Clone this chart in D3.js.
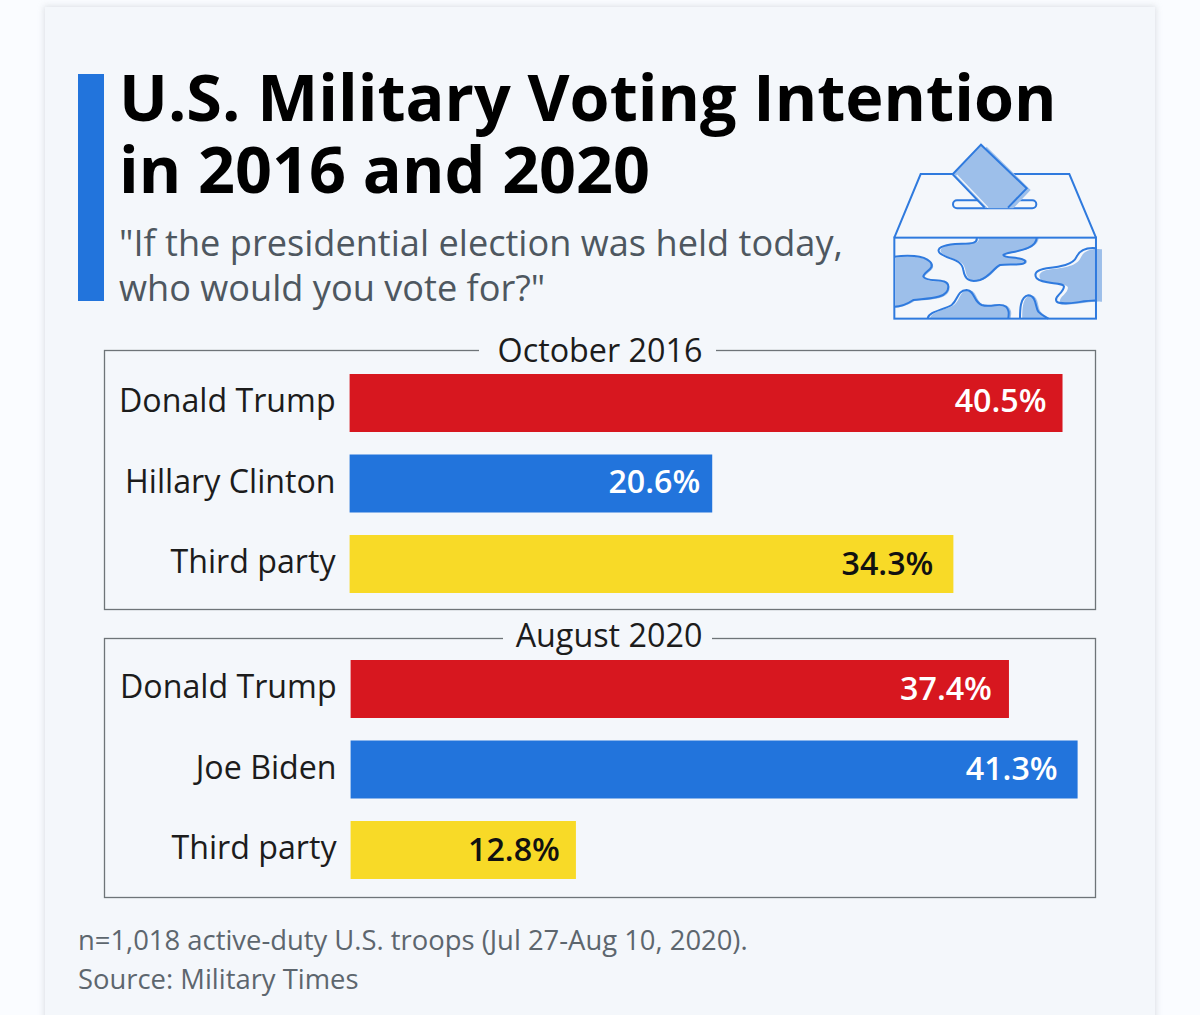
<!DOCTYPE html>
<html><head><meta charset="utf-8">
<script src="https://cdnjs.cloudflare.com/ajax/libs/d3/7.8.5/d3.min.js"></script>
<style>html,body{margin:0;padding:0;background:#fafcff;overflow:hidden}svg{display:block}text{font-family:"Open Sans",sans-serif}</style>
</head><body><svg id="c" width="1200" height="1015"></svg>
<script>
const titleLines=["U.S. Military Voting Intention","in 2016 and 2020"];
const subtitleLines=['"If the presidential election was held today,','who would you vote for?"'];
const footerLines=["n=1,018 active-duty U.S. troops (Jul 27-Aug 10, 2020).","Source: Military Times"];
const panel1Title="October 2016";
const panel1Categories=["Donald Trump","Hillary Clinton","Third party"];
const panel1Values=[40.5,20.6,34.3];
const panel2Title="August 2020";
const panel2Categories=["Donald Trump","Joe Biden","Third party"];
const panel2Values=[37.4,41.3,12.8];
const partyColors=["#d7171f","#2274dc","#f8da27"];
const valueColors=["#ffffff","#ffffff","#111111"];

const svg=d3.select("#c");
const defs=svg.append("defs");
const f=defs.append("filter").attr("id","sh").attr("x","-5%").attr("y","-5%").attr("width","110%").attr("height","110%");
f.append("feGaussianBlur").attr("stdDeviation",3);
svg.append("rect").attr("x",44).attr("y",6).attr("width",1112).attr("height",1030).attr("fill","#c4c9d0").attr("opacity",.55).attr("filter","url(#sh)");
const cardFill="#f4f7fb";
svg.append("rect").attr("x",45).attr("y",7).attr("width",1110).attr("height",1030).attr("fill",cardFill);
svg.append("rect").attr("x",78).attr("y",74).attr("width",26).attr("height",227).attr("fill","#2274dc");

svg.selectAll(".t").data(titleLines).join("text").attr("x",119).attr("y",(d,i)=>121+i*72)
 .attr("font-size",64.7).attr("font-weight",700).attr("fill","#000").text(d=>d);
svg.selectAll(".s").data(subtitleLines).join("text").attr("x",119).attr("y",(d,i)=>256+i*44.5)
 .attr("font-size",36.15).attr("fill","#4e5760").text(d=>d);
svg.selectAll(".f").data(footerLines).join("text").attr("x",78).attr("y",(d,i)=>950+i*38.5)
 .attr("font-size",27.4).attr("fill","#5d666e").text(d=>d);

function panel(o){
 const g=svg.append("g");
 g.append("rect").attr("x",104.5).attr("y",o.top+.5).attr("width",991).attr("height",o.h).attr("fill","none").attr("stroke","#6e7478").attr("stroke-width",1.3);
 g.append("rect").attr("x",o.gap[0]).attr("y",o.top-5).attr("width",o.gap[1]-o.gap[0]).attr("height",11).attr("fill",cardFill);
 g.append("text").attr("x",o.tc).attr("y",o.top+o.tdy).attr("text-anchor","middle").attr("font-size",32.3).attr("fill","#1c1c1c").text(o.title);
 const x=d3.scaleLinear().domain([0,41.3]).range([o.x0,o.x0+727]);
 const y=d3.scaleBand().domain(o.cats).range([o.y0,o.y0+58*3+22.5*2]).paddingInner(22.5/80.5).paddingOuter(0);
 const row=g.selectAll(".r").data(o.cats).join("g");
 row.append("rect").attr("x",o.x0).attr("y",d=>y(d)).attr("width",(d,i)=>x(o.vals[i])-o.x0).attr("height",y.bandwidth()).attr("fill",(d,i)=>partyColors[i]);
 row.append("text").attr("x",o.x0-14).attr("y",d=>y(d)+y.bandwidth()/2+9).attr("text-anchor","end").attr("font-size",32.2).attr("fill","#1c1c1c").text(d=>d);
 row.append("text").attr("x",(d,i)=>x(o.vals[i])-o.insets[i]).attr("y",(d,i)=>y(d)+y.bandwidth()/2+o.vdy[i]).attr("text-anchor","end").attr("font-size",32.2).attr("font-weight",600).attr("fill",(d,i)=>valueColors[i]).text((d,i)=>o.vals[i].toFixed(1)+"%");
}
panel({top:350,h:259,title:panel1Title,tc:600,tdy:12,gap:[479,716],cats:panel1Categories,vals:panel1Values,x0:349.6,y0:374,insets:[16,12,20],vdy:[9,9,11]});
panel({top:638,h:259,title:panel2Title,tc:609,tdy:9,gap:[503,712],cats:panel2Categories,vals:panel2Values,x0:350.6,y0:660,insets:[17,20,16],vdy:[11,10,11]});

// ballot box icon
const ic=svg.append("g").attr("transform","translate(880,130) scale(0.3333)");
const line="#2f7ade",fill="#9dbfea",sw=6;
const blobs=[
"M43 380 C80 375 130 375 150 395 C170 415 130 425 130 440 C140 460 205 440 205 470 C205 510 130 505 100 510 C85 520 60 530 43 530",
"M290 323 C295 345 260 340 225 342 C190 345 165 355 180 370 C205 390 245 385 250 420 C255 450 270 458 300 450 C330 440 340 415 360 405 C390 400 440 410 435 392 C425 380 370 385 370 375 C375 365 470 365 470 323",
"M650 355 C620 352 600 360 590 380 C580 405 540 410 500 415 C470 420 460 430 470 445 C490 465 550 455 552 470 C550 490 520 500 530 515 C550 530 610 510 650 512",
"M143 566 C145 545 190 540 215 525 C235 510 230 482 260 480 C285 482 280 515 305 525 C335 535 360 515 378 530 C392 545 385 555 385 566",
"M420 566 C420 540 420 500 445 496 C470 498 465 530 475 545 C485 556 495 560 505 566"];
const clip=defs.append("clipPath").attr("id","boxclip");
clip.append("rect").attr("x",43).attr("y",323).attr("width",623).attr("height",243);
const fillG=ic.append("g").attr("clip-path","url(#boxclip)");
fillG.selectAll(".sb").data(blobs).join("path").attr("d",(d,i)=>(i==0?d+" L43 380 Z":i==2?d+" L665 512 L665 355 Z":d+" Z")).attr("transform",(d,i)=>i==0?"translate(4,3)":i==1?"translate(6,0)":i==2?"translate(12,3)":"translate(7,0)").attr("fill",fill);
ic.append("rect").attr("x",43).attr("y",323).attr("width",605).attr("height",243).attr("fill","none").attr("stroke",line).attr("stroke-width",sw);
ic.selectAll(".b").data(blobs).join("path").attr("d",d=>d).attr("fill","none").attr("stroke",line).attr("stroke-width",sw);
ic.append("path").attr("d","M43 323 L122 132 L568 132 L648 323").attr("fill","none").attr("stroke",line).attr("stroke-width",sw);
ic.append("rect").attr("x",219).attr("y",211).attr("width",250).attr("height",24).attr("rx",12).attr("fill",cardFill).attr("stroke",line).attr("stroke-width",sw);
ic.append("path").attr("d","M320 50 L452 180 L400 235 L325 235 L240 140 Z").attr("fill",fill);
ic.append("path").attr("d","M314 233 L218 133 L303 44 L440 175 L384 233 Z").attr("fill",fill);
ic.append("path").attr("d","M314 233 L218 133 L303 44 L440 175 L384 233").attr("fill","none").attr("stroke",line).attr("stroke-width",sw);
ic.append("path").attr("d","M324 233 L230 135").attr("stroke",cardFill).attr("stroke-width",4).attr("fill","none");
</script></body></html>
